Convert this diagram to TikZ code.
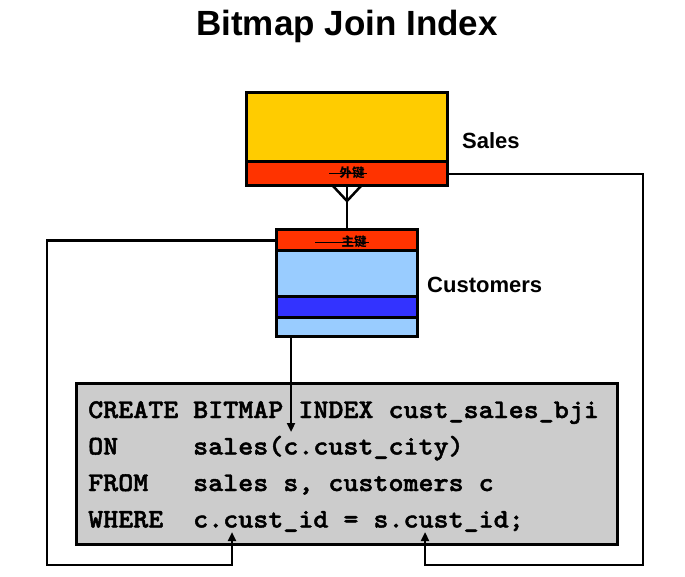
\documentclass[tikz,border=0pt]{standalone}
\usepackage{fontspec}
\setmainfont{Liberation Sans}
\newfontfamily\cjk{Noto Sans CJK SC}
\newfontfamily\codefont[FakeBold=1.6]{lmmonolt10-bold.otf}
\usetikzlibrary{arrows.meta}
\definecolor{salesyellow}{HTML}{FFCC00}
\definecolor{keyred}{HTML}{FF3300}
\definecolor{lightblue}{HTML}{99CCFF}
\definecolor{darkblue}{HTML}{3333FF}
\definecolor{codegray}{HTML}{CCCCCC}
\tikzset{
  box/.style={draw=black, line width=3pt, inner sep=0pt, outer sep=0pt, minimum width=#1},
  conn/.style={line width=2.5pt},
  arr/.style={conn, -{Triangle[length=9pt,width=8pt]}},
  codeline/.style={anchor=base west, inner sep=0pt, font=\codefont\fontsize{27}{27}\selectfont},
  label/.style={anchor=base west, inner sep=0pt, font=\bfseries\fontsize{22}{22}\selectfont},
  keytext/.style={inner sep=0pt, font=\cjk\bfseries\fontsize{12.5}{12.5}\selectfont},
  strike/.style={line width=1pt}
}
\newcommand{\cd}[1]{\scalebox{1.06}[1]{#1}}
\begin{document}
\begin{tikzpicture}[x=1pt,y=-1pt]
\useasboundingbox (0,0) rectangle (685,577);
% title
\node[anchor=base, inner sep=0pt, font=\bfseries\fontsize{35}{35}\selectfont] (title) at (347,36) {Bitmap Join Index};
% Sales table
\node[box=201pt, fill=salesyellow, minimum height=69pt] (salesTop) at (346.5,127.5) {};
\node[box=201pt, fill=keyred, minimum height=24pt] (salesFK) at (346.5,174) {};
\node[keytext] (fk) at (352,173) {外键};
\draw[strike] (329,174) -- (367,174);
\node[label] (saleslbl) at (462,149) {Sales};
% Customers table
\node[box=141pt, fill=keyred, minimum height=21pt] (custPK) at (346.5,240.5) {};
\node[box=141pt, fill=lightblue, minimum height=45pt] (custA) at (346.5,273.5) {};
\node[box=141pt, fill=darkblue, minimum height=21pt] (custB) at (346.5,306.5) {};
\node[box=141pt, fill=lightblue, minimum height=19pt] (custC) at (346.5,326.5) {};
\node[keytext] (pk) at (354,242) {主键};
\draw[strike] (315,243) -- (369,243);
\node[label] (custlbl) at (427,292) {Customers};
% crow's foot
\coordinate (cf) at (347,201);
\draw[conn] (salesFK.south -| 333,0) -- (cf);
\draw[conn] (salesFK.south -| 361,0) -- (cf);
\draw[conn] (salesFK.south -| cf) -- (cf) -- (custPK.north -| cf);
% code box
\node[box=541pt, fill=codegray, minimum height=161pt] (code) at (346.5,463.5) {};
\node[codeline] (k1) at (88,418) {\cd{CREATE}};
\node[codeline] (r1) at (193,418) {\cd{BITMAP INDEX cust\_sales\_bji}};
\node[codeline] (k2) at (88,454.5) {\cd{ON}};
\node[codeline] (r2) at (193,454.5) {\cd{sales(c.cust\_city)}};
\node[codeline] (k3) at (88,491) {\cd{FROM}};
\node[codeline] (r3) at (193,491) {\cd{sales s, customers c}};
\node[codeline] (k4) at (88,527.5) {\cd{WHERE}};
\node[codeline] (r4) at (193,527.5) {\cd{c.cust\_id = s.cust\_id;}};
% connector targets
\coordinate (city) at (291,432);
\coordinate (cid) at (232,532);
\coordinate (sid) at (425,532);
\coordinate (rightcorner) at (643,565);
\coordinate (leftcorner) at (47,565);
% connectors
\draw[arr] (custC.south -| city) -- (city);
\draw[arr] (salesFK.east) -| (rightcorner) -| (sid);
\draw[arr] (custPK.west) -| (leftcorner) -| (cid);
\end{tikzpicture}
\end{document}
